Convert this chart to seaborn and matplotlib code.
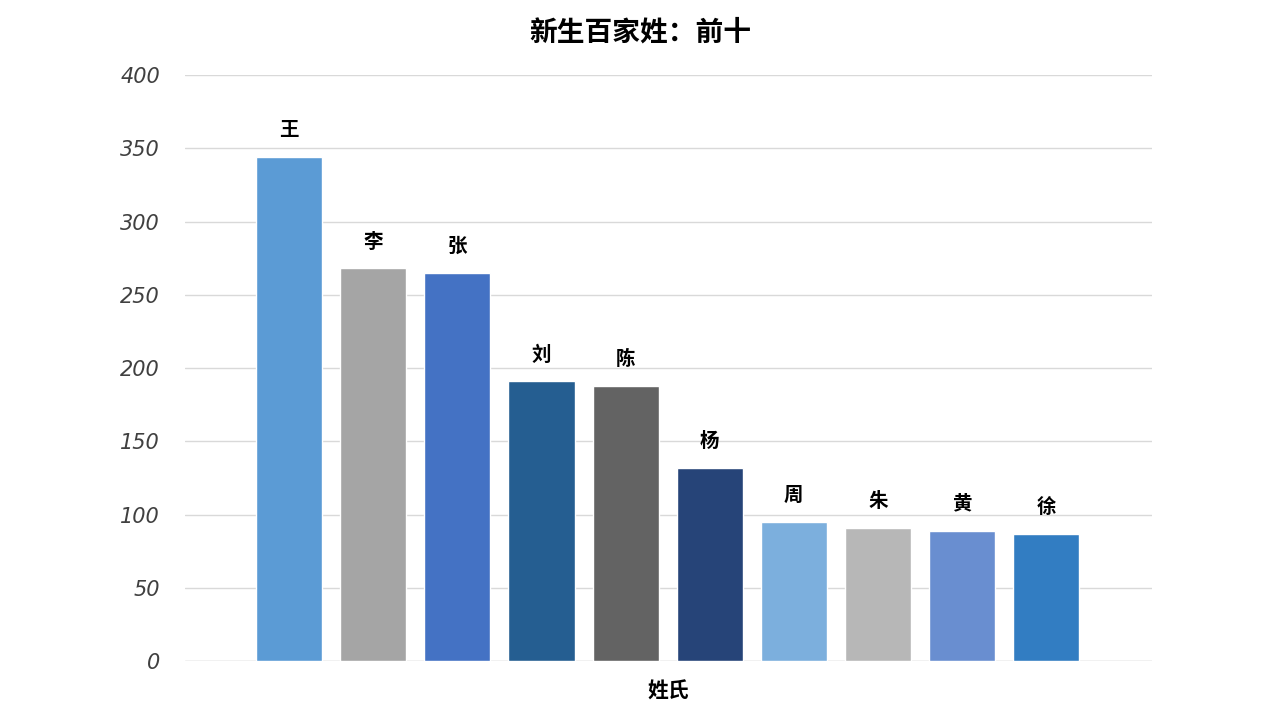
import matplotlib
matplotlib.use("Agg")
import matplotlib.pyplot as plt
import seaborn as sns
import pandas as pd

surnames = ["王", "李", "张", "刘", "陈", "杨", "周", "朱", "黄", "徐"]
counts = [344, 268, 265, 191, 188, 132, 95, 91, 89, 87]
colors = ["#5B9BD5", "#A5A5A5", "#4472C4", "#255E91", "#636363",
          "#264478", "#7CAFDD", "#B7B7B7", "#698ED0", "#327DC2"]
yticks = [0, 50, 100, 150, 200, 250, 300, 350, 400]
title = "新生百家姓：前十"
xlabel = "姓氏"

sns.set_theme(style="white")
plt.rcParams['font.family'] = ['Noto Sans CJK SC', 'DejaVu Sans']

df = pd.DataFrame({"surname": surnames, "count": counts})

fig = plt.figure(figsize=(12.8, 7.2), dpi=100)
ax = fig.add_axes([0.1445, 0.0819, 0.7555, 0.8139])

sns.barplot(data=df, x="surname", y="count", hue="surname",
            palette=colors, legend=False, width=0.785, ax=ax,
            saturation=1, zorder=3)

for i, (s, c) in enumerate(zip(surnames, counts)):
    ax.annotate(s, xy=(i, c), xytext=(0, 19), textcoords="offset points",
                ha="center", va="center", fontsize=14, fontweight="bold",
                color="black")

ax.set_ylim(0, 400)
ax.set_xlim(-1.24, 10.26)
ax.set_yticks(yticks)
ax.set_yticklabels([str(t) for t in yticks], fontsize=15, style="italic",
                   color="#404040", family="DejaVu Sans")
ax.set_xticks([])
ax.yaxis.grid(True, color="#D9D9D9", linewidth=1, zorder=0)
ax.tick_params(axis="y", length=0, pad=18)
for sp in ax.spines.values():
    sp.set_visible(False)
ax.axhline(0, color="#D9D9D9", linewidth=1, zorder=1)

ax.set_ylabel("")
ax.set_xlabel(xlabel, fontsize=15, fontweight="bold", color="black", labelpad=14)
fig.text(0.5, 0.955, title, ha="center", va="center", fontsize=20,
         fontweight="bold", color="black")

fig.savefig("out.png", dpi=100, facecolor="white")
